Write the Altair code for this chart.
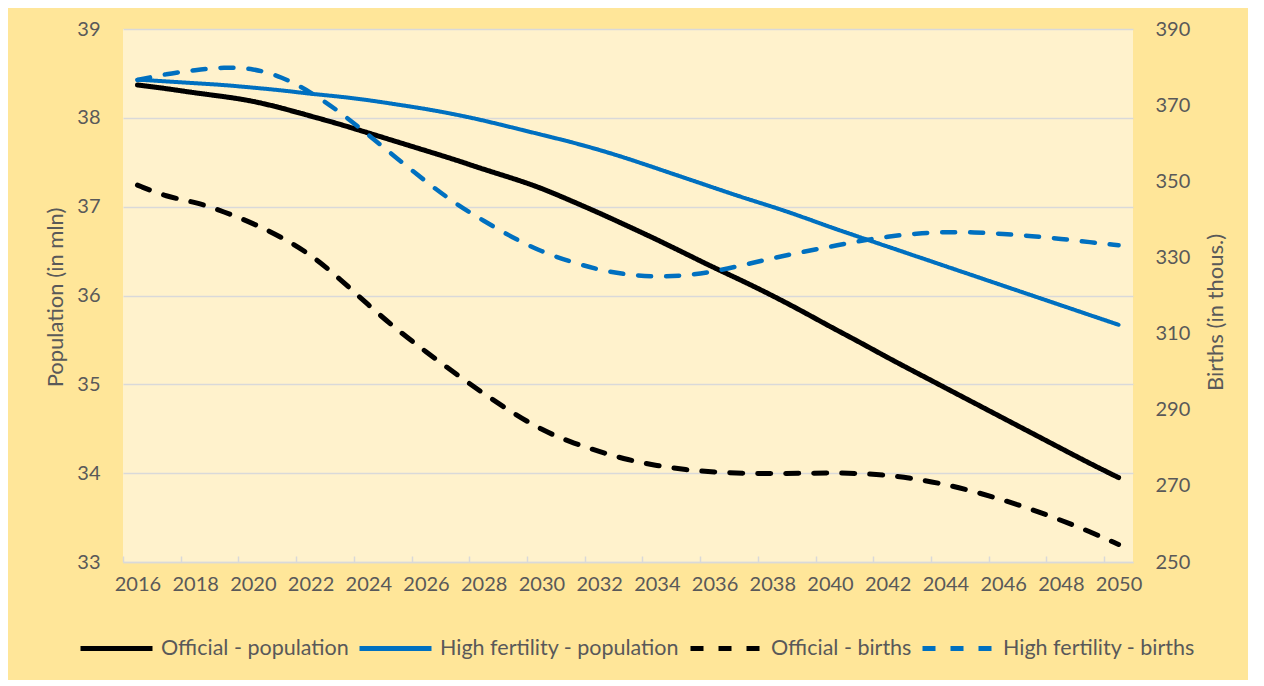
import altair as alt
import pandas as pd

years = list(range(2016, 2051))
even_years = years[::2]

official_pop = [38.37, 38.33, 38.28, 38.24, 38.19, 38.11, 38.02, 37.93, 37.83, 37.73,
                37.63, 37.53, 37.42, 37.32, 37.21, 37.07, 36.93, 36.78, 36.63, 36.47,
                36.31, 36.16, 36.00, 35.83, 35.65, 35.48, 35.30, 35.13, 34.96, 34.79,
                34.62, 34.45, 34.28, 34.11, 33.95]
hf_pop = [38.43, 38.41, 38.39, 38.37, 38.34, 38.31, 38.27, 38.24, 38.20, 38.15,
          38.10, 38.04, 37.97, 37.89, 37.81, 37.73, 37.64, 37.54, 37.43, 37.32,
          37.21, 37.10, 37.00, 36.89, 36.77, 36.66, 36.55, 36.44, 36.33, 36.22,
          36.11, 36.00, 35.89, 35.78, 35.67]
official_births = [349.0, 345.9, 344.6, 342.0, 339.0, 335.3, 330.8, 324.5, 317.5, 311.0,
                   305.2, 299.6, 294.2, 289.2, 284.7, 281.5, 279.0, 276.8, 275.3, 274.2,
                   273.6, 273.3, 273.2, 273.3, 273.4, 273.3, 272.8, 271.8, 270.4, 268.5,
                   266.3, 263.8, 261.0, 258.0, 254.6]
hf_births = [376.6, 378.2, 379.2, 380.0, 379.7, 377.5, 373.5, 368.3, 362.2, 356.0,
             349.9, 344.2, 339.6, 335.2, 331.5, 328.9, 326.7, 325.4, 324.9, 325.2,
             326.3, 328.0, 329.8, 331.4, 332.8, 334.3, 335.5, 336.3, 336.7, 336.6,
             336.2, 335.6, 334.9, 334.0, 333.2]

series_names = ["Official - population", "High fertility - population",
                "Official - births", "High fertility - births"]
series_colors = ["#000000", "#0070C0", "#000000", "#0070C0"]
series_dashes = [[1, 0], [1, 0], [13, 15], [13, 15]]
series_widths = [5, 4, 5, 4.5]

FONT = "Lato"
GRAY = "#595959"

df = pd.DataFrame({
    "year": years * 4,
    "value": official_pop + hf_pop + official_births + hf_births,
    "series": sum([[s] * len(years) for s in series_names], []),
})

x_scale = alt.Scale(domain=[2015.5, 2050.5], nice=False, zero=False)
tick_positions = [y - 0.5 for y in even_years]

x_main = alt.X("year:Q", scale=x_scale, axis=alt.Axis(
    values=even_years, format="d", ticks=False, grid=False, title=None,
    domainColor="#D9D9D9", domainWidth=1.5, labelFont=FONT, labelFontSize=20,
    labelColor=GRAY, labelPadding=12, labelFlush=False, labelOverlap=False))
x_ticks = alt.X("year:Q", scale=x_scale, axis=alt.Axis(
    values=tick_positions, labels=False, ticks=True, tickSize=6, tickColor="#D9D9D9",
    tickWidth=1.5, domain=False, grid=False, title=None, offset=-6, orient="bottom"))

legend = alt.Legend(
    title=None, orient="none", legendX=-45, legendY=581, direction="horizontal",
    columns=4, columnPadding=0, symbolType="stroke", symbolSize=5184,
    symbolStrokeWidth=5, labelFont=FONT, labelFontSize=21.5, labelColor=GRAY,
    labelOffset=6, labelLimit=400)

color = alt.Color("series:N", scale=alt.Scale(domain=series_names, range=series_colors), legend=legend)
dash = alt.StrokeDash("series:N", scale=alt.Scale(domain=series_names, range=series_dashes), legend=legend)

y_left = alt.Y("value:Q", scale=alt.Scale(domain=[33, 39], nice=False, zero=False),
               axis=alt.Axis(values=list(range(33, 40)), title="Population (in mln)",
                             orient="left", ticks=False, domain=False, grid=True,
                             gridColor="#D9D9D9", gridWidth=1.5, labelFont=FONT,
                             labelFontSize=20, labelColor=GRAY, labelPadding=23,
                             titleFont=FONT, titleFontSize=22, titleColor=GRAY,
                             titleFontWeight="normal", titleAngle=270, titleX=-68,
                             titleY=268, titleAlign="center", titleBaseline="middle"))
y_right = alt.Y("value:Q", scale=alt.Scale(domain=[250, 390], nice=False, zero=False),
                axis=alt.Axis(values=list(range(250, 391, 20)), title="Births (in thous.)",
                              orient="right", ticks=False, domain=False, grid=False,
                              labelFont=FONT, labelFontSize=20, labelColor=GRAY,
                              labelPadding=22, titleFont=FONT, titleFontSize=22,
                              titleColor=GRAY, titleFontWeight="normal", titleAngle=270,
                              titleX=82, titleY=283, titleAlign="center",
                              titleBaseline="middle"))

base = alt.Chart(df)


def line(i, x_enc, y_enc):
    return base.mark_line(interpolate="basis", strokeWidth=series_widths[i],
                          strokeCap="round", strokeJoin="round").encode(
        x=x_enc, y=y_enc, color=color, strokeDash=dash
    ).transform_filter(alt.datum.series == series_names[i])


left = alt.layer(line(0, x_main, y_left), line(1, x_main, y_left))
right = alt.layer(line(2, x_ticks, y_right), line(3, x_ticks, y_right))

chart = alt.layer(left, right).resolve_scale(y="independent").resolve_axis(
    x="independent").properties(
    width=1010, height=533,
    autosize=alt.AutoSizeParams(type="none"),
    padding={"left": 115, "top": 21, "right": 115, "bottom": 118},
    background="#FFE699",
).configure_view(fill="#FFF2CC", strokeWidth=0)

chart.save("out.html", embed_options={"renderer": "svg", "actions": False})
